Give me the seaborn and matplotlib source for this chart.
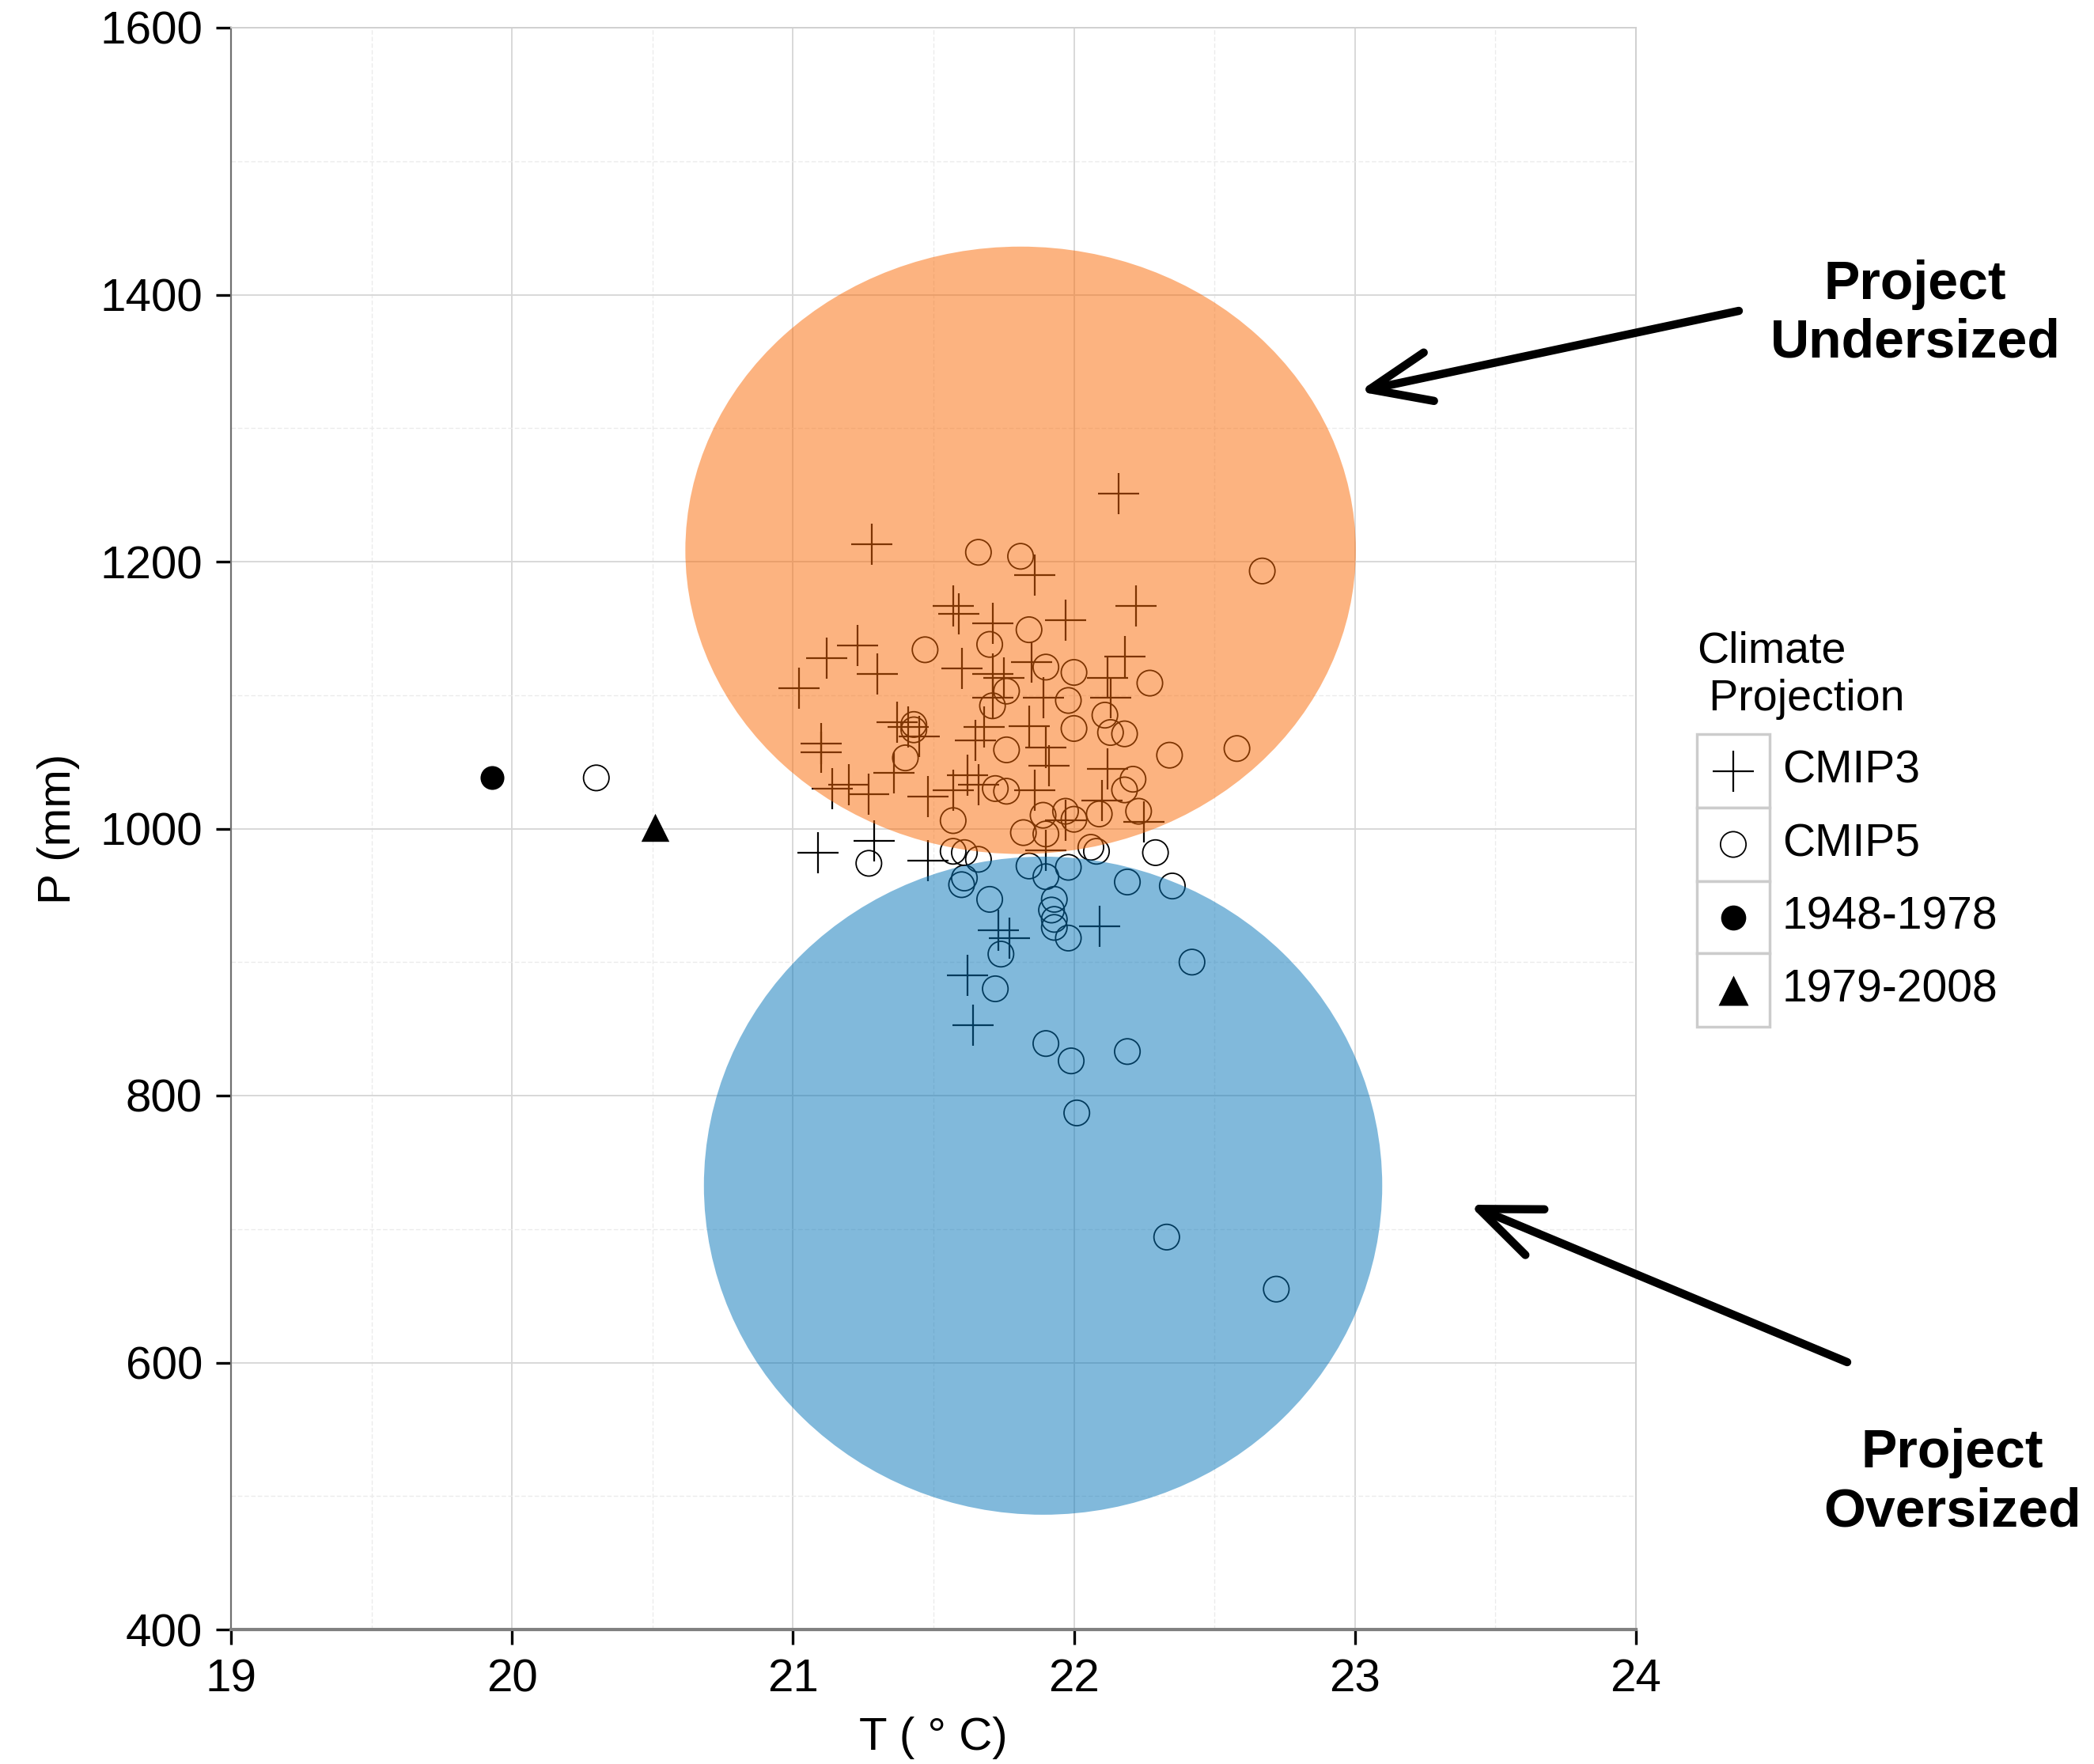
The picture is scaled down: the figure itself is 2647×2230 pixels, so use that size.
import matplotlib
matplotlib.use("Agg")
import matplotlib.pyplot as plt
import seaborn as sns
from matplotlib.patches import Ellipse, Rectangle
from matplotlib.ticker import MultipleLocator

# CMIP3 projections (T in deg C, P in mm)
cmip3_t = [22.16, 21.28, 21.86, 21.57, 21.59, 21.71, 21.97, 22.22, 21.23, 21.12, 21.30, 21.02,
           21.60, 21.71, 21.75, 21.85, 21.89, 22.18, 22.12, 22.13, 21.71, 21.65, 21.68, 21.84,
           21.90, 21.91, 22.12, 21.86, 21.57, 21.62, 21.66, 22.10, 22.25, 21.97,
           21.10, 21.10, 21.14, 21.20, 21.27, 21.36, 21.37, 21.41, 21.45, 21.48,
           21.09, 21.29, 21.48, 21.90, 22.09, 21.73, 21.77, 21.62, 21.64]
cmip3_p = [1251, 1213, 1190, 1167, 1161, 1154, 1156, 1167, 1137, 1128, 1116, 1105,
           1120, 1116, 1113, 1125, 1098, 1129, 1113, 1098, 1098, 1066, 1076, 1077,
           1061, 1047, 1045, 1029, 1029, 1040, 1033, 1021, 1005, 1006,
           1064, 1057, 1030, 1033, 1026, 1042, 1080, 1076, 1069, 1024,
           982, 991, 976, 984, 927, 924, 918, 890, 853]

# CMIP5 projections
cmip5_t = [21.66, 21.81, 22.67, 21.84, 21.47, 22.58, 21.70,
           21.90, 22.00, 21.76, 21.71, 21.98, 22.00, 22.27, 22.11, 22.13, 22.18, 22.34,
           21.76, 21.72, 21.76, 22.21, 22.18, 22.23, 21.57, 21.97, 22.00, 21.89, 22.09,
           21.43, 21.43, 21.40,
           21.82, 21.90, 21.57, 21.61, 21.66, 22.06, 22.08, 22.29, 21.84, 21.90,
           21.98, 21.60, 21.61, 22.19, 22.35, 21.70, 21.93, 21.92, 21.93, 21.93,
           21.98, 22.42, 21.74, 21.72, 21.90, 21.99, 22.19, 22.01, 22.33, 22.72,
           21.27, 20.30]
cmip5_p = [1207, 1204, 1193, 1149, 1134, 1060, 1138,
           1121, 1117, 1103, 1092, 1096, 1075, 1109, 1085, 1072, 1071, 1055,
           1059, 1030, 1028, 1037, 1029, 1013, 1006, 1013, 1007, 1010, 1011,
           1078, 1074, 1053,
           997, 996, 983, 982, 977, 986, 983, 982, 972, 964,
           971, 958, 963, 960, 957, 947, 947, 939, 932, 926,
           918, 900, 906, 880, 839, 826, 833, 787, 694, 655,
           974, 1038]

# observed climate
obs_1948_t = [19.93]
obs_1948_p = [1038]
obs_1979_t = [20.51]
obs_1979_p = [1001]

# sizing zones (centre and half-axes in data units)
zone_t = [21.81, 21.89]
zone_p = [1208.5, 732.5]
zone_half_t = [1.193, 1.207]
zone_half_p = [227.5, 246.5]
zone_colors = ["#FA6802", "#0575B9"]
zone_text = ["Project\nUndersized", "Project\nOversized"]

legend_title = ["Climate", " Projection"]
legend_labels = ["CMIP3", "CMIP5", "1948-1978", "1979-2008"]

W, H = 2647, 2230
sns.set_theme(style="white")
plt.rcParams["font.family"] = ["Liberation Sans", "DejaVu Sans"]
plt.rcParams["text.color"] = "black"
plt.rcParams["axes.labelcolor"] = "black"
plt.rcParams["xtick.color"] = "black"
plt.rcParams["ytick.color"] = "black"

fig = plt.figure(figsize=(W / 100, H / 100), dpi=100)
ax = fig.add_axes([292 / W, 170 / H, 1776 / W, 2025 / H])

sns.scatterplot(x=cmip3_t, y=cmip3_p, marker="+", s=1400, color="black",
                linewidth=1.6, ax=ax, legend=False)
sns.scatterplot(x=cmip5_t, y=cmip5_p, marker="o", s=540, facecolor="none",
                edgecolor="black", linewidth=1.3, ax=ax, legend=False)
sns.scatterplot(x=obs_1948_t, y=obs_1948_p, marker="o", s=470, color="black",
                edgecolor="black", linewidth=0, ax=ax, legend=False)
sns.scatterplot(x=obs_1979_t, y=obs_1979_p, marker="^", s=650, color="black",
                edgecolor="black", linewidth=0, ax=ax, legend=False)

for t, p, ht, hp, c in zip(zone_t, zone_p, zone_half_t, zone_half_p, zone_colors):
    ax.add_patch(Ellipse((t, p), 2 * ht, 2 * hp, facecolor=c, edgecolor="none",
                         alpha=0.5, zorder=3))

ax.set_xlim(19, 24)
ax.set_ylim(400, 1600)
ax.xaxis.set_major_locator(MultipleLocator(1))
ax.xaxis.set_minor_locator(MultipleLocator(0.5))
ax.yaxis.set_major_locator(MultipleLocator(200))
ax.yaxis.set_minor_locator(MultipleLocator(100))
ax.grid(which="major", color="#d8d8d8", lw=1.4)
ax.grid(which="minor", color="#ebebeb", lw=1.0, ls=(0, (4, 2)))
ax.set_axisbelow(True)
ax.tick_params(which="major", direction="out", length=14, width=2.4,
               labelsize=42, pad=12, bottom=True, left=True)
ax.tick_params(which="minor", length=0)
for side in ["top", "right"]:
    ax.spines[side].set_color("#cfcfcf")
    ax.spines[side].set_linewidth(1.3)
ax.spines["left"].set_color("#707070")
ax.spines["left"].set_linewidth(1.6)
ax.spines["bottom"].set_color("#808080")
ax.spines["bottom"].set_linewidth(3)

ax.set_xlabel("T ( ° C)", fontsize=42, labelpad=14)
ax.set_ylabel("P (mm)", fontsize=42, labelpad=18)

# annotations outside the panel
fig.text(2421 / W, 1 - 397 / H, zone_text[0], ha="center", va="center",
         fontsize=49, fontweight="bold", linespacing=1.2)
fig.text(2468 / W, 1 - 1874 / H, zone_text[1], ha="center", va="center",
         fontsize=49, fontweight="bold", linespacing=1.2)
arrow_kw = dict(arrowstyle="->,head_length=1.1,head_width=0.45", lw=7.5, color="black",
                mutation_scale=50, shrinkA=0, shrinkB=0)
ax.annotate("", xy=(1718, H - 495), xycoords="figure pixels",
            xytext=(2198, H - 393), textcoords="figure pixels",
            arrowprops=arrow_kw, annotation_clip=False)
ax.annotate("", xy=(1857, H - 1523), xycoords="figure pixels",
            xytext=(2335, H - 1722), textcoords="figure pixels",
            arrowprops=arrow_kw, annotation_clip=False)

# legend drawn in pixel space
lax = fig.add_axes([0, 0, 1, 1])
lax.set_xlim(0, W)
lax.set_ylim(H, 0)
lax.axis("off")
lax.patch.set_alpha(0)
lax.text(2145, 824, legend_title[0], ha="left", va="center", fontsize=40)
lax.text(2145, 884, legend_title[1], ha="left", va="center", fontsize=40)
row_edges = [928, 1021, 1114, 1205, 1298]
key_styles = [dict(marker="+", s=1400, c="black", linewidths=1.6),
              dict(marker="o", s=540, facecolors="none", edgecolors="black", linewidths=1.3),
              dict(marker="o", s=520, c="black", linewidths=0),
              dict(marker="^", s=750, c="black", linewidths=0)]
for i, (lab, st) in enumerate(zip(legend_labels, key_styles)):
    top, bot = row_edges[i], row_edges[i + 1]
    lax.add_patch(Rectangle((2145, top), 92, bot - top, facecolor="white",
                            edgecolor="#cccccc", lw=2.5))
    lax.scatter([2191], [(top + bot) / 2], **st)
    lax.text(2253, (top + bot) / 2, lab, ha="left", va="center", fontsize=41)

fig.savefig("out.png", dpi=100)
plt.close(fig)
